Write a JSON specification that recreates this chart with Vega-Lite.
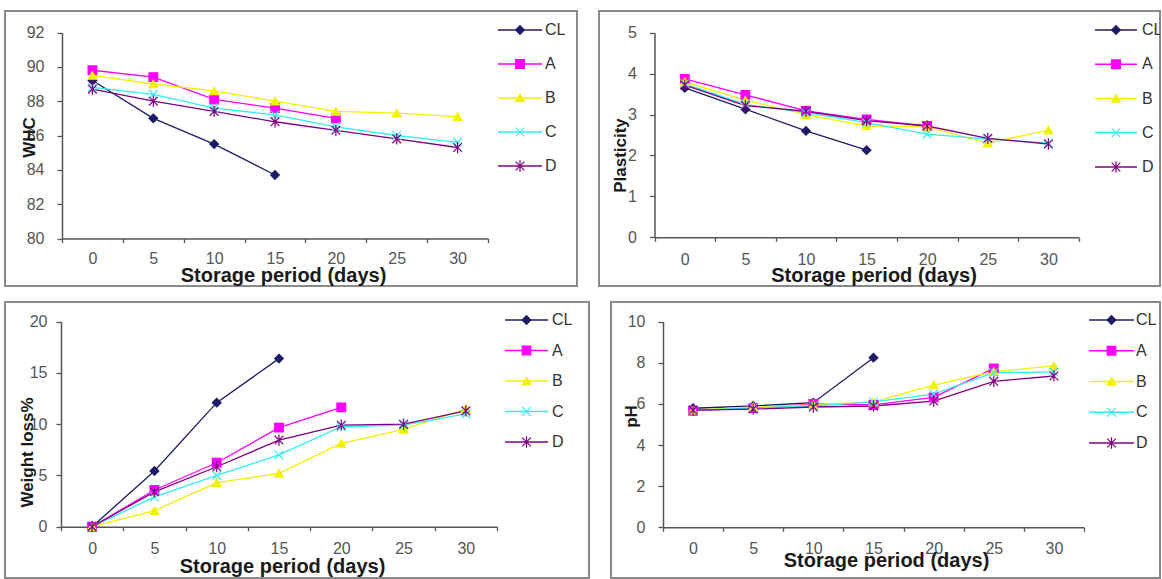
{
"$schema": "https://vega.github.io/schema/vega-lite/v6.json",
"padding": {"left": 4, "top": 10, "right": 0, "bottom": 0},
"background": "white",
"config": {
  "font": "Liberation Sans",
  "range": {"category": ["#1c1c66", "#ff00ff", "#f2f200", "#33eeee", "#800080"], "symbol": ["diamond", "square", "triangle-up", "M-1,-1L1,1M-1,1L1,-1", "M-1,-1L1,1M-1,1L1,-1M0,-1.3L0,1.3"]},
  "axis": {"grid": false, "labelFont": "Liberation Sans", "labelFontSize": 16, "labelColor": "#555555", "titleFont": "Liberation Sans", "titleFontWeight": "bold", "titleColor": "#1a1a1a", "domainColor": "#555555", "domainWidth": 1.5, "tickColor": "#555555", "tickWidth": 1.3},
  "axisX": {"labelAngle": 0, "tickBand": "extent", "tickSize": 4, "titleFontSize": 20, "labelFlush": false},
  "axisY": {"tickSize": 5, "titleFontSize": 17}
},
"datasets": {
  "leg": [{"s": "CL"}, {"s": "A"}, {"s": "B"}, {"s": "C"}, {"s": "D"}],
  "whc": [
    {"d": 0, "s": "CL", "v": 89.2}, {"d": 5, "s": "CL", "v": 87.0}, {"d": 10, "s": "CL", "v": 85.5}, {"d": 15, "s": "CL", "v": 83.7},
    {"d": 0, "s": "A", "v": 89.8}, {"d": 5, "s": "A", "v": 89.4}, {"d": 10, "s": "A", "v": 88.1}, {"d": 15, "s": "A", "v": 87.6}, {"d": 20, "s": "A", "v": 87.0},
    {"d": 0, "s": "B", "v": 89.5}, {"d": 5, "s": "B", "v": 89.0}, {"d": 10, "s": "B", "v": 88.6}, {"d": 15, "s": "B", "v": 88.0}, {"d": 20, "s": "B", "v": 87.4}, {"d": 25, "s": "B", "v": 87.3}, {"d": 30, "s": "B", "v": 87.1},
    {"d": 0, "s": "C", "v": 88.8}, {"d": 5, "s": "C", "v": 88.4}, {"d": 10, "s": "C", "v": 87.6}, {"d": 15, "s": "C", "v": 87.2}, {"d": 20, "s": "C", "v": 86.5}, {"d": 25, "s": "C", "v": 86.0}, {"d": 30, "s": "C", "v": 85.6},
    {"d": 0, "s": "D", "v": 88.7}, {"d": 5, "s": "D", "v": 88.0}, {"d": 10, "s": "D", "v": 87.4}, {"d": 15, "s": "D", "v": 86.8}, {"d": 20, "s": "D", "v": 86.3}, {"d": 25, "s": "D", "v": 85.8}, {"d": 30, "s": "D", "v": 85.3}
  ],
  "plas": [
    {"d": 0, "s": "CL", "v": 3.65}, {"d": 5, "s": "CL", "v": 3.13}, {"d": 10, "s": "CL", "v": 2.6}, {"d": 15, "s": "CL", "v": 2.13},
    {"d": 0, "s": "A", "v": 3.87}, {"d": 5, "s": "A", "v": 3.48}, {"d": 10, "s": "A", "v": 3.09}, {"d": 15, "s": "A", "v": 2.88}, {"d": 20, "s": "A", "v": 2.72},
    {"d": 0, "s": "B", "v": 3.8}, {"d": 5, "s": "B", "v": 3.35}, {"d": 10, "s": "B", "v": 3.0}, {"d": 15, "s": "B", "v": 2.72}, {"d": 20, "s": "B", "v": 2.7}, {"d": 25, "s": "B", "v": 2.3}, {"d": 30, "s": "B", "v": 2.62},
    {"d": 0, "s": "C", "v": 3.75}, {"d": 5, "s": "C", "v": 3.25}, {"d": 10, "s": "C", "v": 3.05}, {"d": 15, "s": "C", "v": 2.8}, {"d": 20, "s": "C", "v": 2.52}, {"d": 25, "s": "C", "v": 2.4}, {"d": 30, "s": "C", "v": 2.3},
    {"d": 0, "s": "D", "v": 3.72}, {"d": 5, "s": "D", "v": 3.22}, {"d": 10, "s": "D", "v": 3.08}, {"d": 15, "s": "D", "v": 2.85}, {"d": 20, "s": "D", "v": 2.72}, {"d": 25, "s": "D", "v": 2.42}, {"d": 30, "s": "D", "v": 2.28}
  ],
  "wl": [
    {"d": 0, "s": "CL", "v": 0}, {"d": 5, "s": "CL", "v": 5.43}, {"d": 10, "s": "CL", "v": 12.1}, {"d": 15, "s": "CL", "v": 16.4},
    {"d": 0, "s": "A", "v": 0}, {"d": 5, "s": "A", "v": 3.58}, {"d": 10, "s": "A", "v": 6.24}, {"d": 15, "s": "A", "v": 9.66}, {"d": 20, "s": "A", "v": 11.64},
    {"d": 0, "s": "B", "v": 0}, {"d": 5, "s": "B", "v": 1.56}, {"d": 10, "s": "B", "v": 4.3}, {"d": 15, "s": "B", "v": 5.2}, {"d": 20, "s": "B", "v": 8.13}, {"d": 25, "s": "B", "v": 9.5}, {"d": 30, "s": "B", "v": 11.5},
    {"d": 0, "s": "C", "v": 0}, {"d": 5, "s": "C", "v": 2.9}, {"d": 10, "s": "C", "v": 5.0}, {"d": 15, "s": "C", "v": 7.0}, {"d": 20, "s": "C", "v": 9.75}, {"d": 25, "s": "C", "v": 9.9}, {"d": 30, "s": "C", "v": 11.0},
    {"d": 0, "s": "D", "v": 0}, {"d": 5, "s": "D", "v": 3.4}, {"d": 10, "s": "D", "v": 5.85}, {"d": 15, "s": "D", "v": 8.45}, {"d": 20, "s": "D", "v": 9.9}, {"d": 25, "s": "D", "v": 10.0}, {"d": 30, "s": "D", "v": 11.3}
  ],
  "ph": [
    {"d": 0, "s": "CL", "v": 5.79}, {"d": 5, "s": "CL", "v": 5.9}, {"d": 10, "s": "CL", "v": 6.06}, {"d": 15, "s": "CL", "v": 8.25},
    {"d": 0, "s": "A", "v": 5.67}, {"d": 5, "s": "A", "v": 5.8}, {"d": 10, "s": "A", "v": 6.0}, {"d": 15, "s": "A", "v": 5.95}, {"d": 20, "s": "A", "v": 6.32}, {"d": 25, "s": "A", "v": 7.73},
    {"d": 0, "s": "B", "v": 5.7}, {"d": 5, "s": "B", "v": 5.85}, {"d": 10, "s": "B", "v": 5.95}, {"d": 15, "s": "B", "v": 6.1}, {"d": 20, "s": "B", "v": 6.92}, {"d": 25, "s": "B", "v": 7.57}, {"d": 30, "s": "B", "v": 7.85},
    {"d": 0, "s": "C", "v": 5.7}, {"d": 5, "s": "C", "v": 5.8}, {"d": 10, "s": "C", "v": 5.9}, {"d": 15, "s": "C", "v": 6.1}, {"d": 20, "s": "C", "v": 6.48}, {"d": 25, "s": "C", "v": 7.52}, {"d": 30, "s": "C", "v": 7.55},
    {"d": 0, "s": "D", "v": 5.7}, {"d": 5, "s": "D", "v": 5.75}, {"d": 10, "s": "D", "v": 5.85}, {"d": 15, "s": "D", "v": 5.9}, {"d": 20, "s": "D", "v": 6.14}, {"d": 25, "s": "D", "v": 7.1}, {"d": 30, "s": "D", "v": 7.36}
  ]
},
"spacing": 14,
"vconcat": [
 {"spacing": 20, "hconcat": [
  {"width": 572, "height": 275, "view": {"stroke": "#8a8a8a", "strokeWidth": 2},
   "resolve": {"scale": {"x": "independent", "y": "independent"}},
   "layer": [
    {"data": {"name": "whc"},
     "encoding": {
       "x": {"field": "d", "type": "ordinal", "scale": {"type": "band", "domain": [0, 5, 10, 15, 20, 25, 30], "range": [57, 483], "paddingInner": 0, "paddingOuter": 0}, "axis": {"title": "Storage period (days)", "offset": -47.5, "labelPadding": 8, "titlePadding": -1, "titleX": 278}},
       "y": {"field": "v", "type": "quantitative", "scale": {"domain": [80, 92], "range": [227.5, 21.5], "nice": false, "zero": false}, "axis": {"title": "WHC", "values": [80, 82, 84, 86, 88, 90, 92], "offset": -57, "labelPadding": 13, "titlePadding": -12, "titleY": 126}},
       "color": {"field": "s", "type": "nominal", "scale": {"domain": ["CL", "A", "B", "C", "D"]}, "legend": null}
     },
     "layer": [
       {"mark": {"type": "line", "strokeWidth": 1.3}},
       {"mark": {"type": "point", "filled": true, "size": 75, "strokeWidth": 1.2, "opacity": 1},
        "encoding": {"shape": {"field": "s", "type": "nominal", "scale": {"domain": ["CL", "A", "B", "C", "D"]}, "legend": null}, "stroke": {"field": "s", "type": "nominal", "scale": {"domain": ["CL", "A", "B", "C", "D"]}, "legend": null}}}
     ]},
    {"data": {"name": "leg"},
     "encoding": {
       "y": {"field": "s", "type": "nominal", "scale": {"type": "point", "domain": ["CL", "A", "B", "C", "D"], "range": [19, 155], "padding": 0}, "axis": null},
       "color": {"field": "s", "type": "nominal", "scale": {"domain": ["CL", "A", "B", "C", "D"]}, "legend": null}
     },
     "layer": [
       {"mark": {"type": "rule", "strokeWidth": 1.3}, "encoding": {"x": {"datum": 0, "type": "quantitative", "scale": {"domain": [0, 1], "range": [493, 537]}, "axis": null}, "x2": {"datum": 1}}},
       {"mark": {"type": "point", "filled": true, "size": 75, "strokeWidth": 1.2, "opacity": 1}, "encoding": {"x": {"datum": 0.5, "type": "quantitative", "scale": {"domain": [0, 1], "range": [493, 537]}, "axis": null}, "shape": {"field": "s", "type": "nominal", "scale": {"domain": ["CL", "A", "B", "C", "D"]}, "legend": null}, "stroke": {"field": "s", "type": "nominal", "scale": {"domain": ["CL", "A", "B", "C", "D"]}, "legend": null}}},
       {"mark": {"type": "text", "align": "left", "baseline": "middle", "dx": 3, "fontSize": 16, "font": "Liberation Sans", "clip": true}, "encoding": {"x": {"datum": 1, "type": "quantitative", "scale": {"domain": [0, 1], "range": [493, 537]}, "axis": null}, "text": {"field": "s"}, "color": {"value": "#333333"}}}
     ]}
   ]},
  {"width": 561, "height": 275, "view": {"stroke": "#8a8a8a", "strokeWidth": 2},
   "resolve": {"scale": {"x": "independent", "y": "independent"}},
   "layer": [
    {"data": {"name": "plas"},
     "encoding": {
       "x": {"field": "d", "type": "ordinal", "scale": {"type": "band", "domain": [0, 5, 10, 15, 20, 25, 30], "range": [55.5, 479.7], "paddingInner": 0, "paddingOuter": 0}, "axis": {"title": "Storage period (days)", "offset": -48.7, "labelPadding": 10, "titlePadding": -2, "titleX": 274.5}},
       "y": {"field": "v", "type": "quantitative", "scale": {"domain": [0, 5], "range": [226.3, 21.7], "nice": false, "zero": false}, "axis": {"title": "Plasticity", "values": [0, 1, 2, 3, 4, 5], "offset": -55.5, "labelPadding": 13, "titlePadding": -2, "titleY": 144}},
       "color": {"field": "s", "type": "nominal", "scale": {"domain": ["CL", "A", "B", "C", "D"]}, "legend": null}
     },
     "layer": [
       {"mark": {"type": "line", "strokeWidth": 1.3}},
       {"mark": {"type": "point", "filled": true, "size": 75, "strokeWidth": 1.2, "opacity": 1},
        "encoding": {"shape": {"field": "s", "type": "nominal", "scale": {"domain": ["CL", "A", "B", "C", "D"]}, "legend": null}, "stroke": {"field": "s", "type": "nominal", "scale": {"domain": ["CL", "A", "B", "C", "D"]}, "legend": null}}}
     ]},
    {"data": {"name": "leg"},
     "encoding": {
       "y": {"field": "s", "type": "nominal", "scale": {"type": "point", "domain": ["CL", "A", "B", "C", "D"], "range": [19, 156], "padding": 0}, "axis": null},
       "color": {"field": "s", "type": "nominal", "scale": {"domain": ["CL", "A", "B", "C", "D"]}, "legend": null}
     },
     "layer": [
       {"mark": {"type": "rule", "strokeWidth": 1.3}, "encoding": {"x": {"datum": 0, "type": "quantitative", "scale": {"domain": [0, 1], "range": [496, 538]}, "axis": null}, "x2": {"datum": 1}}},
       {"mark": {"type": "point", "filled": true, "size": 75, "strokeWidth": 1.2, "opacity": 1}, "encoding": {"x": {"datum": 0.5, "type": "quantitative", "scale": {"domain": [0, 1], "range": [496, 538]}, "axis": null}, "shape": {"field": "s", "type": "nominal", "scale": {"domain": ["CL", "A", "B", "C", "D"]}, "legend": null}, "stroke": {"field": "s", "type": "nominal", "scale": {"domain": ["CL", "A", "B", "C", "D"]}, "legend": null}}},
       {"mark": {"type": "text", "align": "left", "baseline": "middle", "dx": 5, "fontSize": 16, "font": "Liberation Sans", "clip": true}, "encoding": {"x": {"datum": 1, "type": "quantitative", "scale": {"domain": [0, 1], "range": [496, 538]}, "axis": null}, "text": {"field": "s"}, "color": {"value": "#333333"}}}
     ]}
   ]}
 ]},
 {"spacing": 20, "hconcat": [
  {"width": 584, "height": 276, "view": {"stroke": "#8a8a8a", "strokeWidth": 2},
   "resolve": {"scale": {"x": "independent", "y": "independent"}},
   "layer": [
    {"data": {"name": "wl"},
     "encoding": {
       "x": {"field": "d", "type": "ordinal", "scale": {"type": "band", "domain": [0, 5, 10, 15, 20, 25, 30], "range": [56, 492], "paddingInner": 0, "paddingOuter": 0}, "axis": {"title": "Storage period (days)", "offset": -51.3, "labelPadding": 10, "titlePadding": 0, "titleX": 277}},
       "y": {"field": "v", "type": "quantitative", "scale": {"domain": [0, 20], "range": [224.7, 19.7], "nice": false, "zero": false}, "axis": {"title": "Weight loss%", "values": [0, 5, 10, 15, 20], "offset": -56, "labelPadding": 9, "titlePadding": -7, "titleY": 150}},
       "color": {"field": "s", "type": "nominal", "scale": {"domain": ["CL", "A", "B", "C", "D"]}, "legend": null}
     },
     "layer": [
       {"mark": {"type": "line", "strokeWidth": 1.3}},
       {"mark": {"type": "point", "filled": true, "size": 75, "strokeWidth": 1.2, "opacity": 1},
        "encoding": {"shape": {"field": "s", "type": "nominal", "scale": {"domain": ["CL", "A", "B", "C", "D"]}, "legend": null}, "stroke": {"field": "s", "type": "nominal", "scale": {"domain": ["CL", "A", "B", "C", "D"]}, "legend": null}}}
     ]},
    {"data": {"name": "leg"},
     "encoding": {
       "y": {"field": "s", "type": "nominal", "scale": {"type": "point", "domain": ["CL", "A", "B", "C", "D"], "range": [18, 140], "padding": 0}, "axis": null},
       "color": {"field": "s", "type": "nominal", "scale": {"domain": ["CL", "A", "B", "C", "D"]}, "legend": null}
     },
     "layer": [
       {"mark": {"type": "rule", "strokeWidth": 1.3}, "encoding": {"x": {"datum": 0, "type": "quantitative", "scale": {"domain": [0, 1], "range": [500, 543]}, "axis": null}, "x2": {"datum": 1}}},
       {"mark": {"type": "point", "filled": true, "size": 75, "strokeWidth": 1.2, "opacity": 1}, "encoding": {"x": {"datum": 0.5, "type": "quantitative", "scale": {"domain": [0, 1], "range": [500, 543]}, "axis": null}, "shape": {"field": "s", "type": "nominal", "scale": {"domain": ["CL", "A", "B", "C", "D"]}, "legend": null}, "stroke": {"field": "s", "type": "nominal", "scale": {"domain": ["CL", "A", "B", "C", "D"]}, "legend": null}}},
       {"mark": {"type": "text", "align": "left", "baseline": "middle", "dx": 4, "fontSize": 16, "font": "Liberation Sans", "clip": true}, "encoding": {"x": {"datum": 1, "type": "quantitative", "scale": {"domain": [0, 1], "range": [500, 543]}, "axis": null}, "text": {"field": "s"}, "color": {"value": "#333333"}}}
     ]}
   ]},
  {"width": 549, "height": 276, "view": {"stroke": "#8a8a8a", "strokeWidth": 2},
   "resolve": {"scale": {"x": "independent", "y": "independent"}},
   "layer": [
    {"data": {"name": "ph"},
     "encoding": {
       "x": {"field": "d", "type": "ordinal", "scale": {"type": "band", "domain": [0, 5, 10, 15, 20, 25, 30], "range": [52, 473], "paddingInner": 0, "paddingOuter": 0}, "axis": {"title": "Storage period (days)", "offset": -50.7, "labelPadding": 9, "titlePadding": -6, "titleX": 275}},
       "y": {"field": "v", "type": "quantitative", "scale": {"domain": [0, 10], "range": [225.3, 19.7], "nice": false, "zero": false}, "axis": {"title": "pH", "values": [0, 2, 4, 6, 8, 10], "offset": -52, "labelPadding": 13, "titlePadding": -13, "titleY": 114}},
       "color": {"field": "s", "type": "nominal", "scale": {"domain": ["CL", "A", "B", "C", "D"]}, "legend": null}
     },
     "layer": [
       {"mark": {"type": "line", "strokeWidth": 1.3}},
       {"mark": {"type": "point", "filled": true, "size": 75, "strokeWidth": 1.2, "opacity": 1},
        "encoding": {"shape": {"field": "s", "type": "nominal", "scale": {"domain": ["CL", "A", "B", "C", "D"]}, "legend": null}, "stroke": {"field": "s", "type": "nominal", "scale": {"domain": ["CL", "A", "B", "C", "D"]}, "legend": null}}}
     ]},
    {"data": {"name": "leg"},
     "encoding": {
       "y": {"field": "s", "type": "nominal", "scale": {"type": "point", "domain": ["CL", "A", "B", "C", "D"], "range": [18, 141], "padding": 0}, "axis": null},
       "color": {"field": "s", "type": "nominal", "scale": {"domain": ["CL", "A", "B", "C", "D"]}, "legend": null}
     },
     "layer": [
       {"mark": {"type": "rule", "strokeWidth": 1.3}, "encoding": {"x": {"datum": 0, "type": "quantitative", "scale": {"domain": [0, 1], "range": [478, 523]}, "axis": null}, "x2": {"datum": 1}}},
       {"mark": {"type": "point", "filled": true, "size": 75, "strokeWidth": 1.2, "opacity": 1}, "encoding": {"x": {"datum": 0.5, "type": "quantitative", "scale": {"domain": [0, 1], "range": [478, 523]}, "axis": null}, "shape": {"field": "s", "type": "nominal", "scale": {"domain": ["CL", "A", "B", "C", "D"]}, "legend": null}, "stroke": {"field": "s", "type": "nominal", "scale": {"domain": ["CL", "A", "B", "C", "D"]}, "legend": null}}},
       {"mark": {"type": "text", "align": "left", "baseline": "middle", "dx": 2, "fontSize": 16, "font": "Liberation Sans", "clip": true}, "encoding": {"x": {"datum": 1, "type": "quantitative", "scale": {"domain": [0, 1], "range": [478, 523]}, "axis": null}, "text": {"field": "s"}, "color": {"value": "#333333"}}}
     ]}
   ]}
 ]}
]
}
